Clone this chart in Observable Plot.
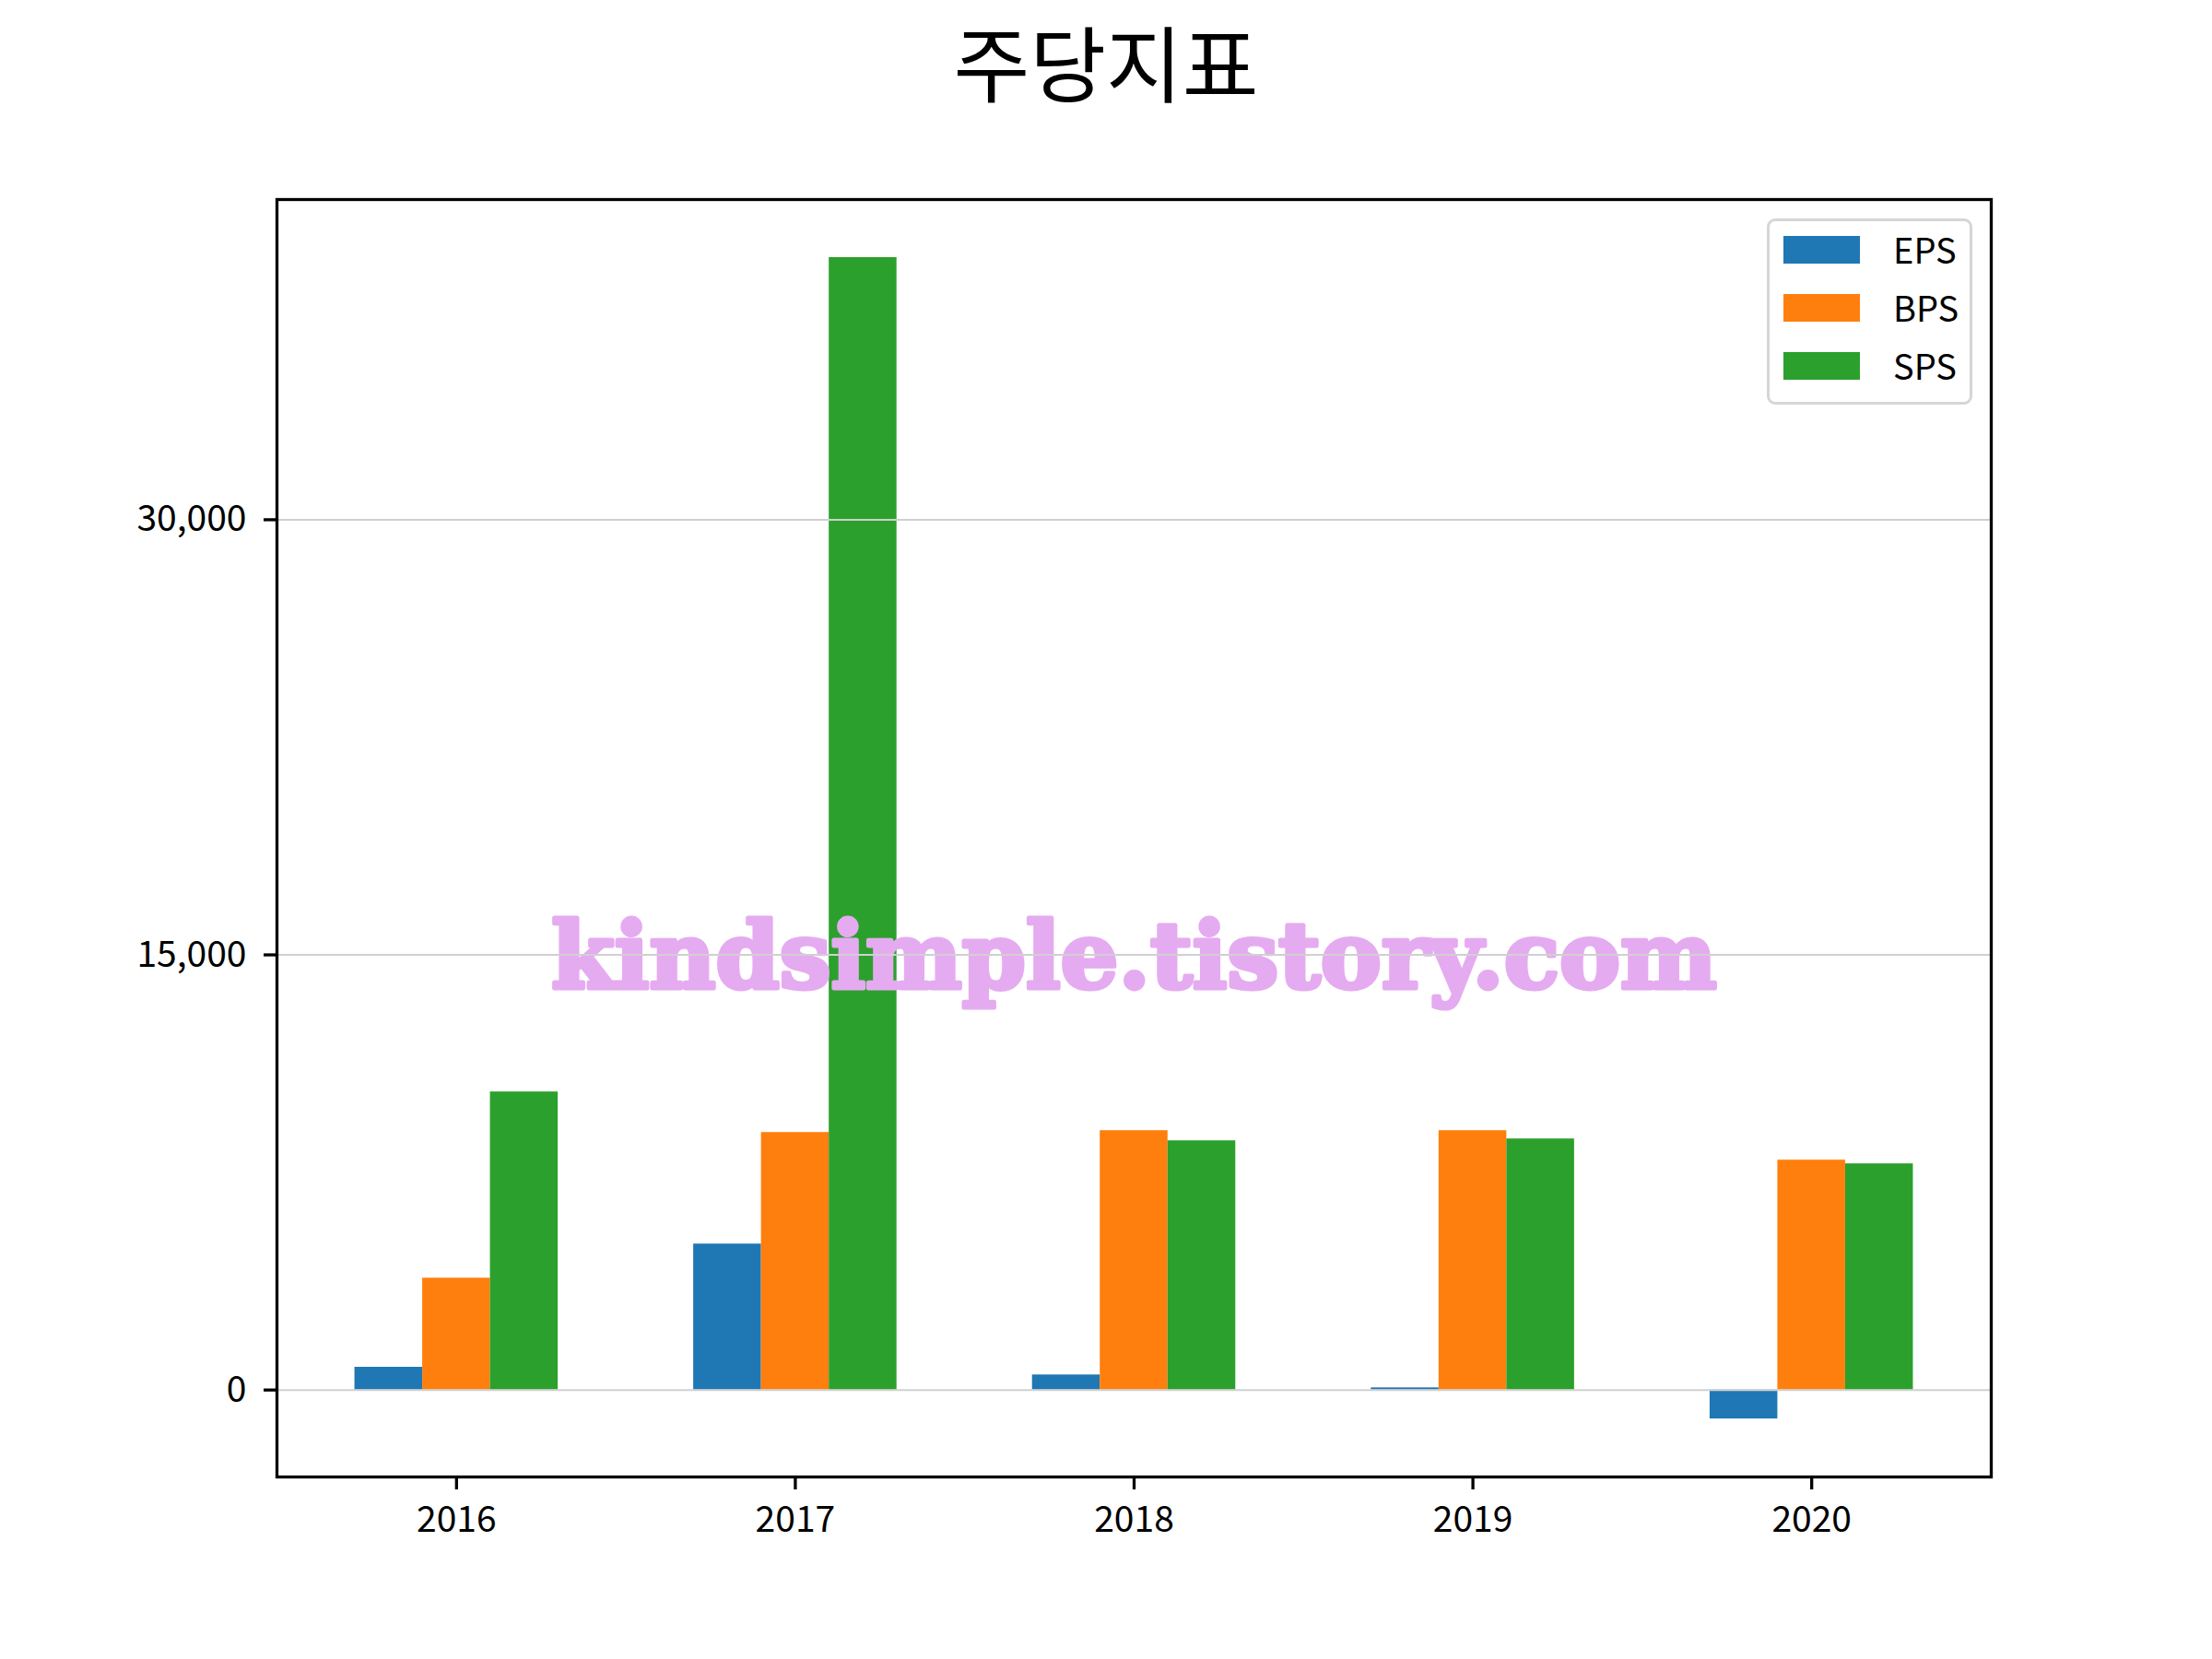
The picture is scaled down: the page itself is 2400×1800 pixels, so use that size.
<!DOCTYPE html>
<html>
<head>
<meta charset="utf-8">
<script src="https://cdn.jsdelivr.net/npm/d3@7"></script>
<script src="https://cdn.jsdelivr.net/npm/@observablehq/plot@0.6"></script>
<style>
  html, body { margin: 0; padding: 0; background: white; }
  #wrap { position: relative; width: 2400px; height: 1800px; font-family: "Noto Sans CJK KR", "Noto Sans", sans-serif; }
  #title { position: absolute; left: 0; width: 2400px; top: 20px; height: 90px; line-height: 90px; text-align: center; font-size: 90px; color: black; }
  #legend { position: absolute; left: 1917px; top: 237px; width: 217px; height: 196px; border: 3px solid #d6d6d6; border-radius: 9px; background: rgba(255,255,255,0.8); }
  .row { position: absolute; left: 15px; height: 30px; }
  .sw { position: absolute; left: 0; top: 0; width: 83px; height: 30px; }
  .lab { position: absolute; left: 119px; top: -16px; height: 60px; line-height: 60px; font-size: 38px; color: black; white-space: nowrap; }
</style>
</head>
<body>
<div id="wrap">
  <div id="title"></div>
  <div id="chart"></div>
  <div id="legend"></div>
</div>
<script>
const title = "주당지표";
const watermark = "kindsimple.tistory.com";
const years = [2016, 2017, 2018, 2019, 2020];
const series = ["EPS", "BPS", "SPS"];
const colors = ["#1f77b4", "#ff7f0e", "#2ca02c"];
const eps = [784, 5031, 519, 74, -996];
const bps = [3855, 8877, 8941, 8941, 7924];
const sps = [10275, 39036, 8591, 8655, 7797];
const yTicks = [0, 15000, 30000];
const barWidth = 0.2;

const values = [eps, bps, sps];
const table = [];
series.forEach((s, si) => {
  years.forEach((yr, i) => {
    const center = yr + (si - 1) * barWidth;
    table.push({series: s, year: yr, x1: center - barWidth / 2, x2: center + barWidth / 2, value: values[si][i]});
  });
});

const xLo = d3.min(table, d => d.x1), xHi = d3.max(table, d => d.x2);
const yLo = Math.min(0, d3.min(table, d => d.value)), yHi = d3.max(table, d => d.value);
const xm = (xHi - xLo) * 0.05, ym = (yHi - yLo) * 0.05;

document.getElementById("title").textContent = title;

const chart = Plot.plot({
  width: 2400,
  height: 1800,
  marginLeft: 300,
  marginRight: 240,
  marginTop: 216,
  marginBottom: 198,
  style: {fontFamily: "'Noto Sans CJK KR', 'Noto Sans', sans-serif", color: "black", background: "white"},
  x: {domain: [xLo - xm, xHi + xm]},
  y: {domain: [yLo - ym, yHi + ym]},
  color: {domain: series, range: colors},
  marks: [
    Plot.rectY(table, {x1: "x1", x2: "x2", y1: 0, y2: "value", fill: "series"}),
    Plot.text([watermark], {text: d => d, frameAnchor: "middle", dy: 131, fontFamily: "'DejaVu Serif', serif", fontWeight: "bold", fontSize: 99, fill: "#e5abf0", stroke: "#e5abf0", strokeWidth: 5, strokeLinejoin: "round"}),
    Plot.gridY(yTicks, {stroke: "#d0d0d0", strokeOpacity: 1, strokeWidth: 2}),
    Plot.axisY(yTicks, {tickSize: 14, tickPadding: 19, fontSize: 39, strokeWidth: 3.3, tickFormat: d3.format(","), label: null}),
    Plot.axisX(years, {tickSize: 14, tickPadding: 18, fontSize: 39, strokeWidth: 3.3, tickFormat: d => String(d), label: null}),
    Plot.frame({stroke: "black", strokeWidth: 3.3})
  ]
});
document.getElementById("chart").appendChild(chart);

const legend = document.getElementById("legend");
const rowTops = [16, 79, 142];
series.forEach((s, i) => {
  const row = document.createElement("div");
  row.className = "row";
  row.style.top = rowTops[i] + "px";
  const sw = document.createElement("div");
  sw.className = "sw";
  sw.style.background = colors[i];
  const lab = document.createElement("div");
  lab.className = "lab";
  lab.textContent = s;
  row.appendChild(sw);
  row.appendChild(lab);
  legend.appendChild(row);
});
</script>
</body>
</html>
